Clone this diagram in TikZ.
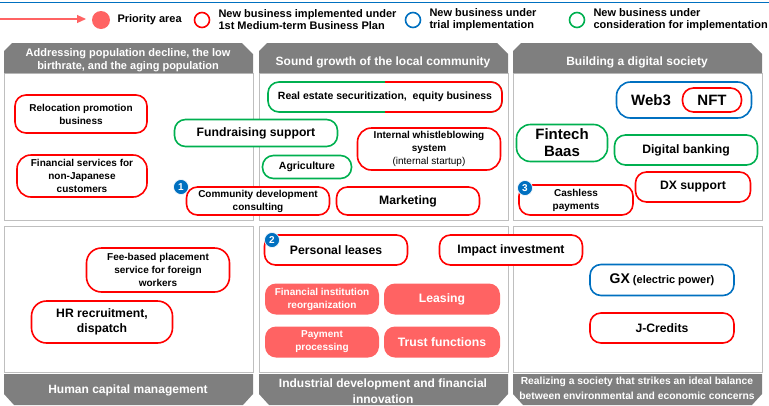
\documentclass[tikz,border=0pt]{standalone}
\usepackage{fontspec}
\setmainfont{Liberation Sans}
\usetikzlibrary{arrows.meta}

\definecolor{cred}{HTML}{FF0000}
\definecolor{cgreen}{HTML}{00B050}
\definecolor{cblue}{HTML}{0070C0}
\definecolor{csalmon}{HTML}{FF6363}
\definecolor{chead}{HTML}{7F7F7F}
\definecolor{cframe}{HTML}{BFBFBF}

\tikzset{
  pill/.style={draw, line width=1.6pt, rounded corners=11pt, align=center, inner sep=1pt,
    fill=white, font=\bfseries\fontsize{10}{13}\selectfont},
  neu/.style={pill, draw=cred},
  versuch/.style={pill, draw=cblue},
  plan/.style={pill, draw=cgreen},
  prio/.style={pill, draw=none, fill=csalmon, text=white},
  gross/.style={font=\bfseries\fontsize{12.2}{15}\selectfont},
  riesig/.style={font=\bfseries\fontsize{15}{17}\selectfont},
  nummer/.style={circle, fill=cblue, text=white, draw=white, line width=0.6pt, inner sep=0pt,
    minimum size=15pt, font=\bfseries\fontsize{10}{10}\selectfont},
  kopf/.style={text=white, align=center, font=\bfseries\fontsize{12}{16}\selectfont},
  legende/.style={anchor=west, align=left, font=\bfseries\fontsize{11}{12}\selectfont},
  ring/.style={circle, draw, line width=1.6pt, minimum size=15pt, inner sep=0pt},
}

\begin{document}
\begin{tikzpicture}[x=1pt, y=-1pt]
    \useasboundingbox (0,0) rectangle (769,405);

    % 1. Legende
    \draw[cblue, line width=0.8pt] (0,2) -- (769,2);
    \coordinate (pstart) at (0,19);
    \coordinate (pende) at (86,19);
    \draw[csalmon, line width=1.2pt, -{Triangle[length=9pt, width=8pt]}] (pstart) -- (pende);
    \node[circle, fill=csalmon, minimum size=18pt, inner sep=0pt] (lprio) at (101,20) {};
    \node[legende] (tprio) at (114,20) {Priority area};
    \node[ring, draw=cred] (lneu) at (202,20) {};
    \node[legende] (tneu) at (215,20) {New business implemented under\\1st Medium-term Business Plan};
    \node[ring, draw=cblue] (lversuch) at (413,20) {};
    \node[legende] (tversuch) at (426,20) {New business under\\trial implementation};
    \node[ring, draw=cgreen] (lplan) at (577,20) {};
    \node[legende] (tplan) at (590,20) {New business under\\consideration for implementation};

    % 2. Felder mit Kopf- und Fussleisten
    \foreach \xa/\xb in {4/253, 259/508, 513/762} {
        \draw[cframe, line width=1pt] (\xa,73) rectangle (\xb,220);
        \fill[chead] (\xa,73) -- (\xa,51) -- (\xa+8,43) -- (\xb-11,43) -- (\xb,54) -- (\xb,73) -- cycle;
        \draw[cframe, line width=1pt] (\xa,226) rectangle (\xb,372);
        \fill[chead] (\xa,374) -- (\xa,394) -- (\xa+10,405) -- (\xb-10,405) -- (\xb,394) -- (\xb,374) -- cycle;
    }
    \node[kopf, font=\bfseries\fontsize{11}{13.5}\selectfont] (kopf1) at (128,60)
        {Addressing population decline, the low\\birthrate, and the aging population};
    \node[kopf] (kopf2) at (383,62) {Sound growth of the local community};
    \node[kopf] (kopf3) at (637,62) {Building a digital society};
    \node[kopf] (fuss1) at (128,390) {Human capital management};
    \node[kopf] (fuss2) at (383,391) {Industrial development and financial\\innovation};
    \node[kopf, font=\bfseries\fontsize{10.3}{15}\selectfont] (fuss3) at (637,388)
        {Realizing a society that strikes an ideal balance\\between environmental and economic concerns};

    % 3. Bevoelkerungsrueckgang
    \node[neu, minimum width=132, minimum height=38] (umzug) at (81,114) {Relocation promotion\\business};
    \node[neu, minimum width=130, minimum height=42, rounded corners=14pt] (ausland) at (82,176) {Financial services for\\non-Japanese\\customers};

    % 4. Regionale Entwicklung
    \node[plan, minimum width=234, minimum height=30] (immo) at (385,97) {};
    \begin{scope}
        \clip (immo.north) rectangle ([xshift=2pt, yshift=-2pt]immo.south east);
        \node[neu, minimum width=234, minimum height=30] at (immo) {};
    \end{scope}
    \node[font=\bfseries\fontsize{10.5}{12}\selectfont] (timmo) at (immo) {Real estate securitization,\ \ equity business};
    \node[plan, gross, minimum width=163, minimum height=27] (spenden) at (256,133) {Fundraising support};
    \node[plan, font=\bfseries\fontsize{10.5}{12}\selectfont, minimum width=89, minimum height=23] (agrar) at (307,167) {Agriculture};
    \node[neu, minimum width=143, minimum height=42, rounded corners=14pt] (hinweis) at (429,149)
        {Internal whistleblowing\\system\\{\mdseries (internal startup)}};
    \node[neu, minimum width=143, minimum height=28] (gemeinde) at (258,201) {Community development\\consulting};
    \node[neu, gross, minimum width=143, minimum height=28] (marketing) at (408,201) {Marketing};
    \node[nummer] (n1) at (181,187) {1};

    % 5. Digitale Gesellschaft
    \node[versuch, minimum width=135, minimum height=36, rounded corners=14pt] (web) at (684,100) {};
    \node[riesig] (tweb) at (651,100) {Web3};
    \node[neu, riesig, minimum width=59, minimum height=24] (nft) at (712,100) {NFT};
    \node[plan, riesig, minimum width=91, minimum height=37, rounded corners=14pt] (fintech) at (562,143) {Fintech\\Baas};
    \node[plan, gross, minimum width=143, minimum height=30] (digital) at (686,150) {Digital banking};
    \node[neu, gross, minimum width=115, minimum height=30] (dx) at (693,187) {DX support};
    \node[neu, minimum width=114, minimum height=30] (bargeld) at (576,200) {Cashless\\payments};
    \node[nummer] (n3) at (525,188) {3};

    % 6. Humankapital
    \node[neu, minimum width=143, minimum height=44, rounded corners=15pt] (vermittlung) at (158,270)
        {Fee-based placement\\service for foreign\\workers};
    \node[neu, gross, minimum width=141, minimum height=42, rounded corners=15pt] (personal) at (102,322)
        {HR recruitment,\\dispatch};

    % 7. Industrie und Finanzinnovation
    \node[neu, gross, minimum width=143, minimum height=30] (leasingp) at (336,250) {Personal leases};
    \node[neu, gross, minimum width=143, minimum height=30] (impact) at (511,250) {Impact investment};
    \node[nummer] (n2) at (272,240) {2};
    \node[prio, minimum width=114, minimum height=31] (reorg) at (322,299) {Financial institution\\reorganization};
    \node[prio, gross, minimum width=116, minimum height=31] (leasing) at (442,299) {Leasing};
    \node[prio, minimum width=114, minimum height=31] (zahlung) at (322,342) {Payment\\processing};
    \node[prio, gross, minimum width=116, minimum height=31] (treuhand) at (442,342) {Trust functions};

    % 8. Umwelt und Wirtschaft
    \node[versuch, font=\bfseries\fontsize{11}{12}\selectfont, minimum width=144, minimum height=31] (gx) at (662,280)
        {{\fontsize{14}{14}\selectfont GX} (electric power)};
    \node[neu, gross, minimum width=144, minimum height=30] (jcredits) at (662,328) {J-Credits};

\end{tikzpicture}
\end{document}
